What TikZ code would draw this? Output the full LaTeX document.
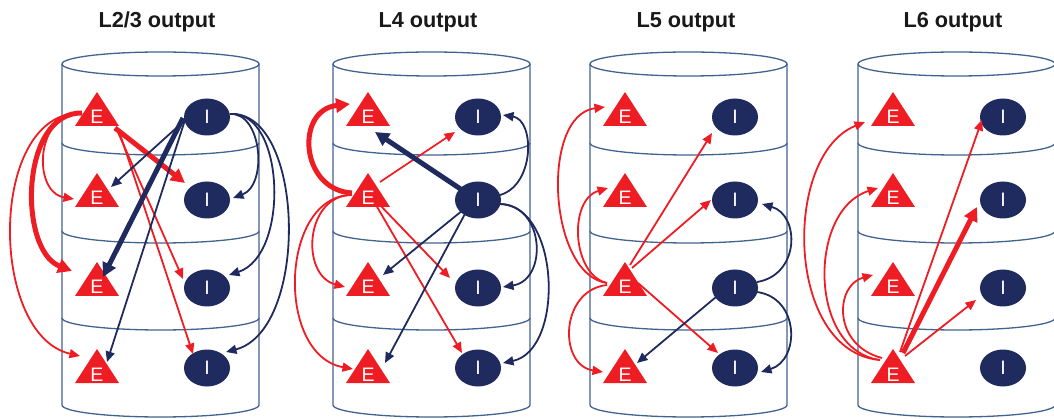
\documentclass[tikz,border=0pt]{standalone}
\usepackage{fontspec}
\setmainfont{Liberation Sans}
\usetikzlibrary{arrows.meta,shapes.geometric}
\definecolor{exc}{HTML}{EE1D23}
\definecolor{inh}{HTML}{1F2A5E}
\definecolor{wall}{HTML}{41638F}

% one cortical column: a cylinder split into four layers
\newcommand\drawcolumn[1]{%
  \draw[wallline] (#1+98.5,64) ellipse [x radius=98.5, y radius=12];
  \draw[wallline] (#1,64) -- (#1,405)
    arc [start angle=180, end angle=0, x radius=98.5, y radius=12] -- (#1+197,64);
  \foreach \yy in {143,231,318}
    \draw[wallline] (#1,\yy) arc [start angle=180, end angle=0, x radius=98.5, y radius=12];
}

\begin{document}
\begin{tikzpicture}[x=1pt, y=-1pt,
  wallline/.style={draw=wall, line width=1.3pt},
  title/.style={anchor=base, font=\bfseries\fontsize{21.7}{24}\selectfont, text=black!90},
  enode/.style={rectangle, inner sep=0pt, minimum width=44pt, minimum height=34pt,
    text height=32pt, text depth=2pt, text=white, font=\fontsize{19.5}{19.5}\selectfont,
    path picture={\fill[exc] (path picture bounding box.south west)
      -- (path picture bounding box.south east)
      -- (path picture bounding box.north) -- cycle;}},
  inode/.style={ellipse, fill=inh, inner sep=0pt, minimum width=46pt, minimum height=37pt,
    text=white, font=\fontsize{19.5}{19.5}\selectfont},
  exthin/.style={draw=exc, line width=1.8pt, -{Triangle[length=10.5pt, width=9pt]}},
  exthick/.style={draw=exc, line width=5pt, -{Triangle[length=14pt, width=14pt]}},
  inthin/.style={draw=inh, line width=1.8pt, -{Triangle[length=10.5pt, width=9pt]}},
  inthick/.style={draw=inh, line width=5pt, -{Triangle[length=14pt, width=14pt]}}]
\useasboundingbox (0,0) rectangle (1054,419);

% titles
\node[title] (t1) at (157,28) {L2/3 output};
\node[title] (t2) at (428,28) {L4 output};
\node[title] (t3) at (686,28) {L5 output};
\node[title] (t4) at (953,28) {L6 output};

% columns and cells
\foreach \c/\L in {a/62,b/333,c/590,d/858}{
  \drawcolumn{\L}
  \foreach \r/\ye/\yi in {1/109/117,2/190/200,3/279/288,4/366/368}{
    \node[enode] (\c E\r) at (\L+35,\ye) {E};
    \node[inode] (\c I\r) at (\L+145,\yi) {I};
  }
}

% ---- L2/3 output
\draw[exthin]  ([shift={(-15,4)}]aE1.center) .. controls (35,112) and (32,192) .. ([shift={(-23,9)}]aE2.center);
\draw[exthick] ([shift={(-15,4)}]aE1.center) .. controls (20,112) and (18,250) .. ([shift={(-25,-8)}]aE3.center);
\draw[exthin]  ([shift={(-15,4)}]aE1.center) .. controls (-12,110) and (-12,335) .. ([shift={(-17,-10)}]aE4.center);
\draw[exthick] ([shift={(18,19)}]aE1.center) -- ([shift={(-22,-17)}]aI2.center);
\draw[exthin]  ([shift={(20,21)}]aE1.center) -- ([shift={(-24,-9)}]aI3.center);
\draw[exthin]  ([shift={(22,22)}]aE1.center) -- ([shift={(-14,-14)}]aI4.center);
\draw[inthin]  ([shift={(-23,4)}]aI1.center) -- ([shift={(14,-3)}]aE2.center);
\draw[inthick] ([shift={(-24,1)}]aI1.center) -- ([shift={(6,-2)}]aE3.center);
\draw[inthin]  ([shift={(-22,3)}]aI1.center) -- ([shift={(10,-4)}]aE4.center);
\draw[inthin]  ([shift={(23,-3)}]aI1.center) .. controls (262,112) and (268,185) .. ([shift={(26,-2)}]aI2.center);
\draw[inthin]  ([shift={(23,-3)}]aI1.center) .. controls (285,110) and (290,255) .. ([shift={(22,-13)}]aI3.center);
\draw[inthin]  ([shift={(23,-3)}]aI1.center) .. controls (305,110) and (310,330) .. ([shift={(19,-16)}]aI4.center);

% ---- L4 output
\draw[exthick] ([shift={(-16,3)}]bE2.center) .. controls (300,190) and (295,110) .. ([shift={(-18,-5)}]bE1.center);
\draw[exthin]  ([shift={(12,-8)}]bE2.center) -- ([shift={(-23,15)}]bI1.center);
\draw[exthin]  ([shift={(-16,5)}]bE2.center) .. controls (305,195) and (300,275) .. ([shift={(-23,8)}]bE3.center);
\draw[exthin]  ([shift={(-16,5)}]bE2.center) .. controls (280,195) and (275,355) .. ([shift={(-15,3)}]bE4.center);
\draw[exthin]  ([shift={(10,13)}]bE2.center) -- ([shift={(-28,-10)}]bI3.center);
\draw[exthin]  ([shift={(8,15)}]bE2.center) -- ([shift={(-16,-15)}]bI4.center);
\draw[inthick] ([shift={(-16,-10)}]bI2.center) -- ([shift={(7,23)}]bE1.center);
\draw[inthin]  ([shift={(22,-5)}]bI2.center) .. controls (535,185) and (535,120) .. ([shift={(25,-2)}]bI1.center);
\draw[inthin]  ([shift={(-15,10)}]bI2.center) -- ([shift={(15,-4)}]bE3.center);
\draw[inthin]  ([shift={(-12,12)}]bI2.center) -- ([shift={(17,-3)}]bE4.center);
\draw[inthin]  ([shift={(22,4)}]bI2.center) .. controls (545,205) and (548,280) .. ([shift={(25,-1)}]bI3.center);
\draw[inthin]  ([shift={(22,4)}]bI2.center) .. controls (560,205) and (565,350) .. ([shift={(25,-5)}]bI4.center);

% ---- L5 output
\draw[exthin]  ([shift={(-18,4)}]cE3.center) .. controls (548,275) and (540,115) .. ([shift={(-20,-2)}]cE1.center);
\draw[exthin]  ([shift={(-18,4)}]cE3.center) .. controls (572,275) and (568,200) .. ([shift={(-17,-2)}]cE2.center);
\draw[exthin]  ([shift={(5,-14)}]cE3.center) -- ([shift={(-23,16)}]cI1.center);
\draw[exthin]  ([shift={(7,-11)}]cE3.center) -- ([shift={(-24,0)}]cI2.center);
\draw[exthin]  ([shift={(-18,6)}]cE3.center) .. controls (560,290) and (558,365) .. ([shift={(-22,6)}]cE4.center);
\draw[exthin]  ([shift={(13,4)}]cE3.center) -- ([shift={(-17,-15)}]cI4.center);
\draw[inthin]  ([shift={(22,-6)}]cI3.center) .. controls (800,275) and (800,215) .. ([shift={(27,4)}]cI2.center);
\draw[inthin]  ([shift={(-19,9)}]cI3.center) -- ([shift={(12,-3)}]cE4.center);
\draw[inthin]  ([shift={(22,4)}]cI3.center) .. controls (800,298) and (800,360) .. ([shift={(26,4)}]cI4.center);

% ---- L6 output
\draw[exthin]  ([shift={(-13,-6)}]dE4.center) .. controls (785,352) and (782,155) .. ([shift={(-28,13)}]dE1.center);
\draw[exthin]  ([shift={(-13,-6)}]dE4.center) .. controls (808,350) and (808,210) .. ([shift={(-15,-2)}]dE2.center);
\draw[exthin]  ([shift={(-11,-8)}]dE4.center) .. controls (832,345) and (835,285) .. ([shift={(-20,-4)}]dE3.center);
\draw[exthin]  ([shift={(7,-14)}]dE4.center) -- ([shift={(-21,3)}]dI1.center);
\draw[exthick] ([shift={(10,-13)}]dE4.center) -- ([shift={(-26,7)}]dI2.center);
\draw[exthin]  ([shift={(12,-10)}]dE4.center) -- ([shift={(-27,12)}]dI3.center);
\end{tikzpicture}
\end{document}
